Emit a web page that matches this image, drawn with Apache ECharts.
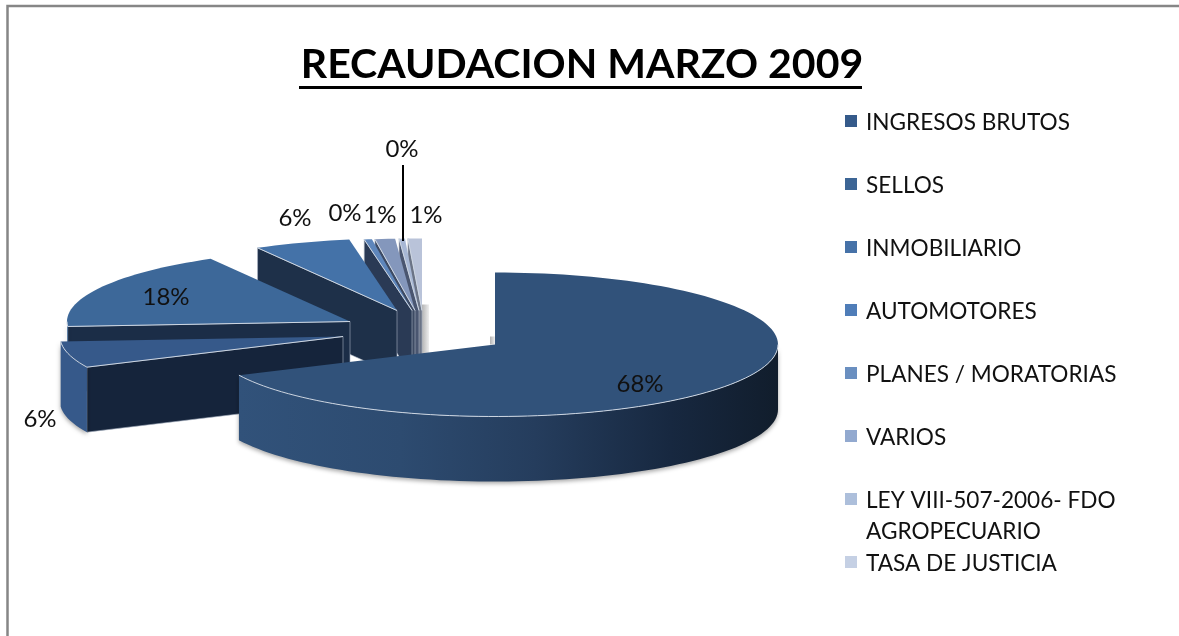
<!DOCTYPE html>
<html>
<head>
<meta charset="utf-8">
<title>Recaudacion Marzo 2009</title>
<script src="https://cdn.jsdelivr.net/npm/echarts@6/dist/echarts.min.js"></script>
<style>
  html, body { margin: 0; padding: 0; background: #fff; }
  #main { width: 1179px; height: 636px; }
</style>
</head>
<body>
<div id="main"></div>
<script>
  const categories = ['INGRESOS BRUTOS', 'SELLOS', 'INMOBILIARIO', 'AUTOMOTORES', 'PLANES / MORATORIAS', 'VARIOS', 'LEY VIII-507-2006- FDO\nAGROPECUARIO', 'TASA DE JUSTICIA'];
  // percent of the total
  const sliceValues = [68, 5.9, 17.9, 5.5, 0.44, 1.14, 0.33, 0.79];

  const legendColors = ['#355a8a', '#3c6595', '#4672a8', '#4f7db8', '#6a8fc0', '#92a9cf', '#adbfdb', '#c5d0e4'];
  const topColors = ['#31527a', '#36598a', '#3d6899', '#4472a8', '#5e86bb', '#8497bc', '#a8b8d5', '#b9c3d9'];
  const faceColors = ['#1b2d47', '#15243b', '#1b2d47', '#1e3049', '#2a3a55', '#3d4a63', '#4a5670', '#6b7486'];

  // how far each slice is pulled out of the pie, px
  const sliceShift = [[0, 0], [-152, -8], [-145, -23], [-98, -34], [-83, -34], [-80, -34], [-76, -34], [-73, -34]];
  // label centers, px
  const labelPos = [[640, 384], [40, 419], [166, 297], [295, 218], [345, 213], [380, 215], [402, 149], [426, 215]];
  const legendRows = [121, 184, 247, 310, 373, 436, 499, 562];

  const cx = 495, cy = 344.5, rx = 283, ry = 72, depth = 65;
  const fontName = 'Lato';
  const edgeColor = '#cdd6e2';

  const total = sliceValues.reduce((a, b) => a + b, 0);

  function pt(deg, sx, sy, down) {
    let r = deg * Math.PI / 180;
    return [cx + sx + rx * Math.sin(r), cy + sy - ry * Math.cos(r) + (down || 0)];
  }

  function arc(from, to, sx, sy, down) {
    let pts = [];
    let n = Math.max(2, Math.ceil((to - from) / 2));
    for (let i = 0; i <= n; i++) {
      pts.push(pt(from + (to - from) * i / n, sx, sy, down));
    }
    return pts;
  }

  function renderSlice(params, api) {
    let i = params.dataIndex;
    let start = 0;
    for (let k = 0; k < i; k++) start += sliceValues[k] / total * 360;
    let end = start + api.value(1) / total * 360;
    let sx = sliceShift[i][0], sy = sliceShift[i][1];
    let apex = [cx + sx, cy + sy];
    let z = 20 - i * 2;
    let children = [];

    // soft grey shadows behind the back of the pie
    if (i === 7 || i === 0) {
      let w = i === 7 ? 7 : -5;
      let up = i === 7 ? 6 : 8;
      let h = i === 7 ? depth - 15 : 8;
      children.push({
        type: 'rect', z2: 0,
        shape: { x: apex[0], y: apex[1] - up, width: w, height: h },
        style: {
          fill: new echarts.graphic.LinearGradient(0, 0, 1, 0, [
            { offset: 0, color: '#b4b4b4' },
            { offset: 1, color: '#eeeeee' }
          ])
        }
      });
    }

    // flat face that shows where the slice was cut
    if (start > 180) {
      let c = pt(start, sx, sy);
      children.push({
        type: 'polygon', z2: z,
        shape: { points: [apex, c, [c[0], c[1] + depth], [apex[0], apex[1] + depth]] },
        style: { fill: faceColors[i], stroke: '#aab4c2', lineWidth: 0.6 }
      });
    }

    // outer wall, only the part that faces us
    let a = Math.max(start, 90), b = Math.min(end, 270);
    if (b > a) {
      let wall = arc(a, b, sx, sy).concat(arc(a, b, sx, sy, depth).reverse());
      let fill = topColors[i];
      if (i === 0) {
        fill = new echarts.graphic.LinearGradient(0, 0, 1, 0, [
          { offset: 0, color: '#31527a' },
          { offset: 0.3, color: '#2d4b70' },
          { offset: 0.55, color: '#253d5d' },
          { offset: 0.8, color: '#172840' },
          { offset: 1, color: '#111d2c' }
        ]);
      }
      children.push({
        type: 'polygon', z2: z,
        shape: { points: wall },
        style: { fill: fill, shadowBlur: 4, shadowColor: 'rgba(0,0,0,0.35)', shadowOffsetY: 2 }
      });
    }

    // top of the slice
    children.push({
      type: 'polygon', z2: z + 1,
      shape: { points: [apex].concat(arc(start, end, sx, sy)) },
      style: { fill: topColors[i] }
    });

    // light bevel along the lower edges
    if (start > 180) {
      children.push({
        type: 'polyline', z2: z + 1,
        shape: { points: [apex, pt(start, sx, sy)] },
        style: { fill: 'none', stroke: edgeColor, lineWidth: 1 }
      });
    }
    if (b > a) {
      children.push({
        type: 'polyline', z2: z + 1,
        shape: { points: arc(a, b, sx, sy) },
        style: { fill: 'none', stroke: edgeColor, lineWidth: 1 }
      });
    }

    // percent label
    children.push({
      type: 'text', z2: 60,
      style: {
        x: labelPos[i][0], y: labelPos[i][1],
        text: Math.round(api.value(1)) + '%',
        fill: '#111', font: '24px ' + fontName,
        align: 'center', verticalAlign: 'middle'
      }
    });

    // legend row
    children.push({
      type: 'rect', z2: 60,
      shape: { x: 845, y: legendRows[i] - 6, width: 12, height: 12 },
      style: { fill: legendColors[i] }
    });
    children.push({
      type: 'text', z2: 60,
      style: {
        x: 866, y: legendRows[i] - 14,
        text: categories[i],
        fill: '#111', font: '22.6px ' + fontName, lineHeight: 31,
        align: 'left', verticalAlign: 'top'
      }
    });

    return { type: 'group', children: children };
  }

  let option = {
    backgroundColor: '#fff',
    animation: false,
    title: {
      text: 'RECAUDACION MARZO 2009',
      left: 577, top: 39, textAlign: 'center',
      textStyle: { fontFamily: fontName, fontSize: 41, fontWeight: 'bold', color: '#000' }
    },
    graphic: [
      // chart frame, only top and left show in the picture
      { type: 'polyline', shape: { points: [[7.5, 636], [7.5, 6], [1179, 6]] }, style: { fill: 'none', stroke: '#868686', lineWidth: 2.5 } },
      // title underline
      { type: 'rect', shape: { x: 299, y: 86, width: 563, height: 3 }, style: { fill: '#000' } },
      // leader line of the LEY label
      { type: 'line', shape: { x1: 403, y1: 165, x2: 403, y2: 241 }, style: { stroke: '#000', lineWidth: 2 }, z: 50 }
    ],
    series: [{
      type: 'custom',
      coordinateSystem: 'none',
      renderItem: renderSlice,
      data: sliceValues.map((v, i) => [i, v])
    }]
  };

  let myChart = echarts.init(document.getElementById('main'));
  myChart.setOption(option);
</script>
</body>
</html>
